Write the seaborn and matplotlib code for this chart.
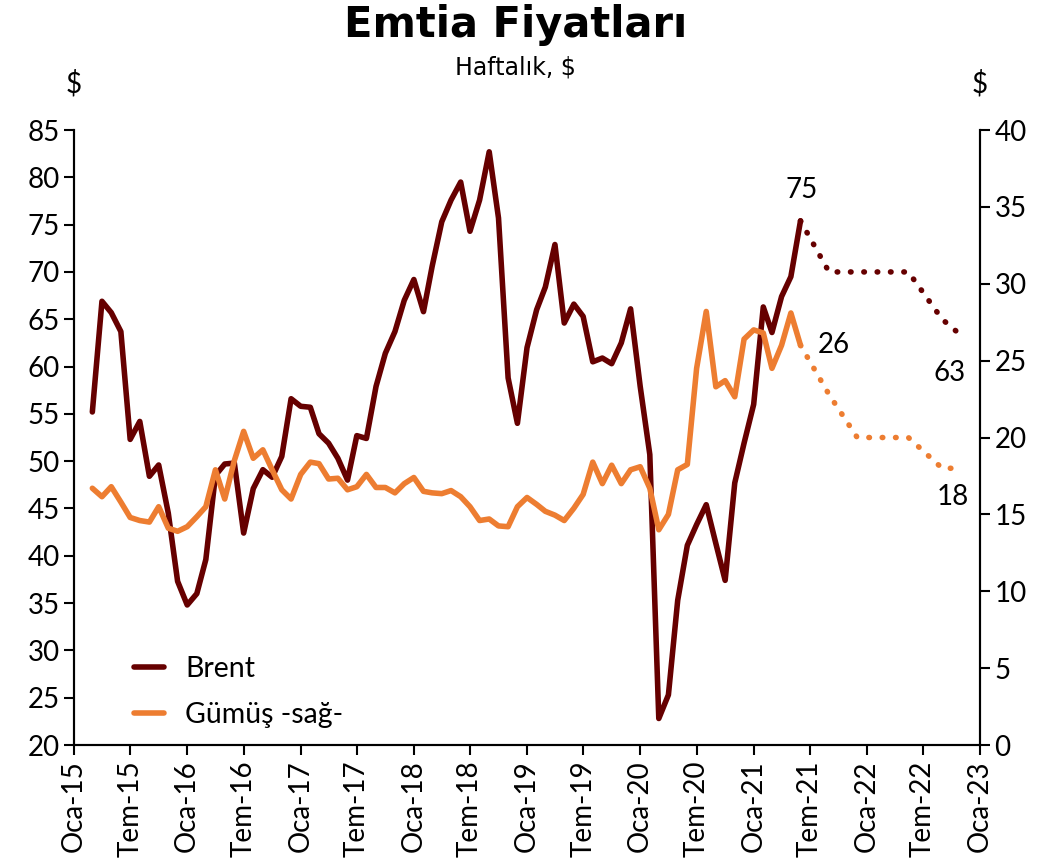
import pandas as pd
import numpy as np
import matplotlib.pyplot as plt
import seaborn as sns

# monthly observations, first one is Mar-2015
first_month = "2015-03-01"
brent = [
    55.2, 66.9, 65.7, 63.7, 52.3, 54.2, 48.4, 49.6, 44.5, 37.3,
    34.8, 36.0, 39.6, 48.5, 49.7, 49.8, 42.4, 47.1, 49.1, 48.3,
    50.5, 56.6, 55.8, 55.7, 52.9, 51.9, 50.3, 48.0, 52.7, 52.4,
    57.9, 61.4, 63.7, 67.0, 69.2, 65.8, 70.6, 75.3, 77.6, 79.5,
    74.3, 77.6, 82.7, 75.7, 58.8, 54.0, 62.0, 66.0, 68.4, 72.9,
    64.6, 66.6, 65.3, 60.5, 60.9, 60.3, 62.5, 66.1, 57.9, 50.7,
    22.8, 25.3, 35.3, 41.1, 43.3, 45.4, 41.3, 37.4, 47.7, 51.9,
    56.0, 66.3, 63.6, 67.4, 69.5, 75.4,
]
silver = [
    16.7, 16.15, 16.8, 15.8, 14.8, 14.6, 14.5, 15.5, 14.1, 13.9,
    14.2, 14.85, 15.5, 17.9, 16.0, 18.5, 20.4, 18.65, 19.2, 17.9,
    16.6, 16.0, 17.6, 18.4, 18.3, 17.3, 17.35, 16.6, 16.8, 17.6,
    16.75, 16.75, 16.4, 17.0, 17.4, 16.5, 16.4, 16.35, 16.55, 16.15,
    15.5, 14.6, 14.7, 14.25, 14.2, 15.5, 16.1, 15.65, 15.2, 14.95,
    14.6, 15.4, 16.3, 18.4, 17.0, 18.2, 17.0, 17.9, 18.1, 16.7,
    14.0, 15.0, 17.9, 18.25, 24.5, 28.2, 23.3, 23.7, 22.65, 26.4,
    27.0, 26.8, 24.5, 26.0, 28.1, 26.0,
]

# forecast path (dotted), starts at the last observation
fc_dates = ["2021-06-01", "2021-09-01", "2021-12-01", "2022-05-15", "2022-09-01", "2022-11-01"]
brent_fc = [75.4, 70.0, 70.0, 70.0, 65.0, 63.3]
silver_fc = [26.0, 22.8, 20.0, 20.0, 18.0, 18.0]

tick_labels = [
    "Oca-15", "Tem-15", "Oca-16", "Tem-16", "Oca-17", "Tem-17", "Oca-18", "Tem-18",
    "Oca-19", "Tem-19", "Oca-20", "Tem-20", "Oca-21", "Tem-21", "Oca-22", "Tem-22", "Oca-23",
]

BRENT_COL = "#660000"
SILVER_COL = "#ED7D31"
LW = 4.0
DOTS = (0, (0.1, 2.3))

df = pd.DataFrame({
    "date": pd.date_range(first_month, periods=len(brent), freq="MS"),
    "brent": brent,
    "silver": silver,
})
fc = pd.DataFrame({"date": pd.to_datetime(fc_dates), "brent": brent_fc, "silver": silver_fc})

sns.set_style("ticks")
plt.rcParams["font.family"] = ["Lato", "DejaVu Sans"]
plt.rcParams["text.color"] = "black"

fig = plt.figure(figsize=(10.43, 8.68), dpi=100)
ax = fig.add_axes([0.071, 0.1417, 0.8686, 0.7085])
ax2 = ax.twinx()

sns.lineplot(data=df, x="date", y="brent", ax=ax, color=BRENT_COL, linewidth=LW)
sns.lineplot(data=fc, x="date", y="brent", ax=ax, color=BRENT_COL, linewidth=LW,
             linestyle=DOTS, dash_capstyle="round")
sns.lineplot(data=df, x="date", y="silver", ax=ax2, color=SILVER_COL, linewidth=LW)
sns.lineplot(data=fc, x="date", y="silver", ax=ax2, color=SILVER_COL, linewidth=LW,
             linestyle=DOTS, dash_capstyle="round")

# axes limits and ticks
ticks = pd.date_range("2015-01-01", "2023-01-01", freq="6MS")
ax.set_xlim(ticks[0], ticks[-1])
ax.set_xticks(ticks)
ax.set_xticklabels(tick_labels, rotation=90, fontsize=20)
ax.set_ylim(20, 85)
ax.set_yticks(np.arange(20, 86, 5))
ax2.set_ylim(0, 40)
ax2.set_yticks(np.arange(0, 41, 5))
ax.set_xlabel("")
ax.set_ylabel("")
ax2.set_ylabel("")

for a in (ax, ax2):
    a.spines["top"].set_visible(False)
    for s in ("left", "right", "bottom"):
        a.spines[s].set_linewidth(1.5)
        a.spines[s].set_color("black")
    a.tick_params(axis="both", direction="out", length=7, width=1.5, labelsize=20,
                  colors="black", labelcolor="black")
ax.tick_params(axis="x", pad=4)

# axis unit labels
ax.text(0.0, 1.075, "$", transform=ax.transAxes, ha="center", va="center", fontsize=20)
ax.text(1.0, 1.075, "$", transform=ax.transAxes, ha="center", va="center", fontsize=20)

# end-point labels
ax.annotate(f"{brent_fc[0]:.0f}", xy=(fc["date"].iloc[0], brent_fc[0]), xytext=(1, 22),
            textcoords="offset points", ha="center", va="center", fontsize=20)
ax2.annotate(f"{silver_fc[0]:.0f}", xy=(fc["date"].iloc[0], silver_fc[0]), xytext=(24, 0),
             textcoords="offset points", ha="center", va="center", fontsize=20)
ax.annotate(f"{brent_fc[-1]:.0f}", xy=(fc["date"].iloc[-1], brent_fc[-1]), xytext=(-8, -27),
            textcoords="offset points", ha="center", va="center", fontsize=20)
ax2.annotate(f"{silver_fc[-1]:.0f}", xy=(fc["date"].iloc[-1], silver_fc[-1]), xytext=(-6, -21),
             textcoords="offset points", ha="center", va="center", fontsize=20)

# legend
handles = [
    plt.Line2D([], [], color=BRENT_COL, linewidth=LW, solid_capstyle="round"),
    plt.Line2D([], [], color=SILVER_COL, linewidth=LW, solid_capstyle="round"),
]
ax2.legend(handles, ["Brent", "Gümüş -sağ-"], loc="upper left", bbox_to_anchor=(0.066, 0.145),
           frameon=False, fontsize=20.5, handlelength=1.05, handletextpad=0.75,
           labelspacing=0.72, borderpad=0, borderaxespad=0)

# titles
fig.text(0.494, 0.971, "Emtia Fiyatları", ha="center", va="center",
         fontsize=30, fontweight="bold", family="DejaVu Sans")
fig.text(0.494, 0.922, "Haftalık, $", ha="center", va="center",
         fontsize=17, family="DejaVu Sans")

fig.savefig("out.png", dpi=100)
